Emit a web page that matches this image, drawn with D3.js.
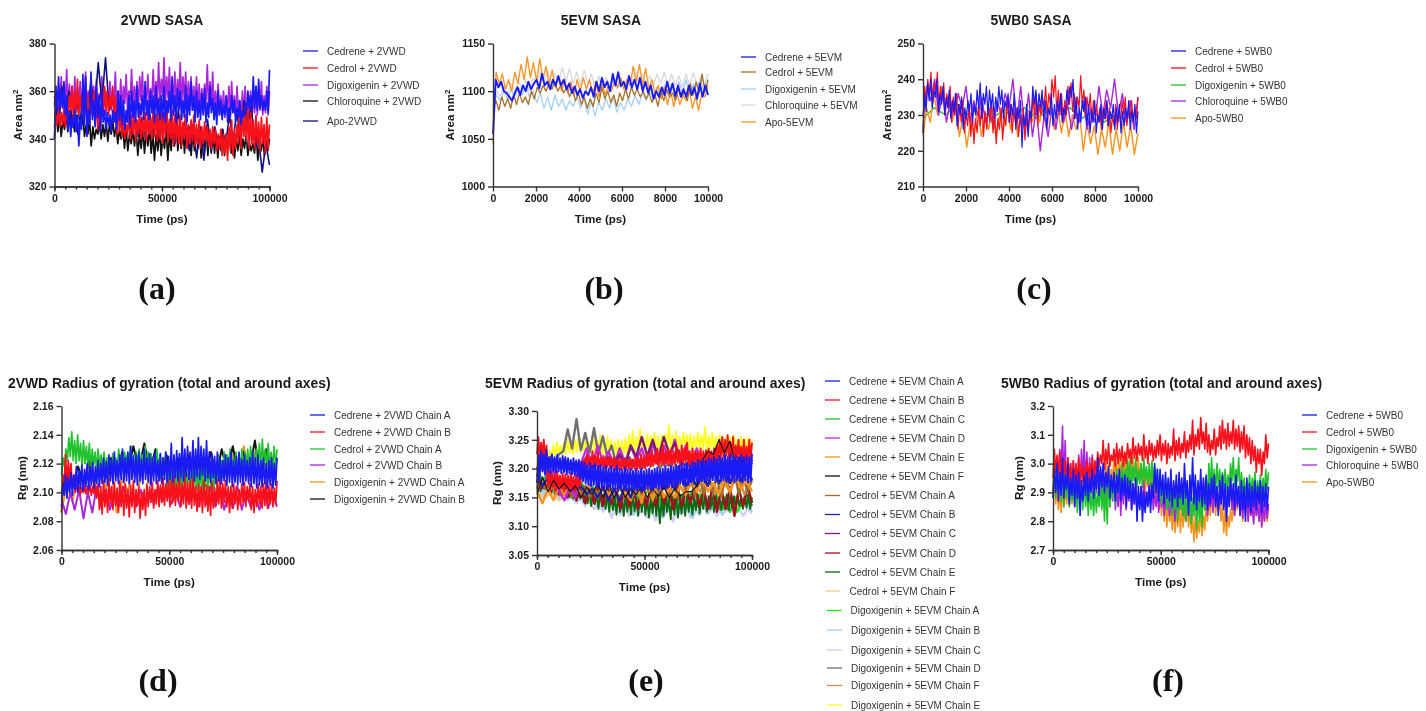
<!DOCTYPE html>
<html>
<head>
<meta charset="utf-8">
<script src="https://cdn.jsdelivr.net/npm/d3@7"></script>
<style>
    html, body { margin: 0; padding: 0; background: white; }
    svg { display: block; filter: blur(0.35px); }
    text { font-family: 'Liberation Sans', Arial, sans-serif; fill: #1a1a1a; }
    .axis text { font-family: 'Liberation Sans', Arial, sans-serif; font-weight: 700; font-size: 10.5px; }
    .axis path, .axis line { stroke: #333; stroke-width: 1.4px; }
    .title { font-weight: 700; font-size: 13.9px; }
    .axis-label { font-weight: 700; font-size: 11.6px; }
    .legend-label { font-size: 10px; fill: #333; }
    .letter { font-family: 'Liberation Serif', serif; font-weight: 700; font-size: 32px; fill: #111; }
</style>
</head>
<body>
<div id="chart"></div>
<script>

// values, evenly spaced over each run

// (a) 2VWD SASA
const aCedrene = [340,362,352,366,351,360,353,364,350,358,344,351,341,349,345,352,343,350,337,348,344,367,346,366,341,352,346,368,348,356,345,362,349,358,343,360,347,352,344,351,346,350,343,352,347,351,344,360,348,358,346,356,344,352,347,358,345,360,349,356,347,362,349,355,350,358,348,364,350,356,348,360,351,358,347,362,350,357,348,358,349,362,347,356,351,360,348,366,350,358,347,361,352,360,348,356,349,362,347,358,350,364,352,358,347,360,349,356,348,359,350,361,347,355,349,362,351,357,348,355,346,360,350,356,348,354,350,358,347,353,349,358,351,356,347,353,349,356,346,352,349,355,352,360,353,358,352,366,353,362,352,365,353,358,352,356,352,360,351,369];
const aCedrol = [340,350,346,354,345,351,346,353,345,352,350,358,352,362,349,360,351,365,350,358,352,362,349,360,351,358,347,356,350,360,347,354,344,358,345,352,350,362,352,360,350,358,353,362,349,358,342,356,343,350,341,348,340,346,342,350,340,350,342,351,339,348,342,352,340,349,341,351,339,352,342,349,340,354,341,350,339,352,340,351,338,350,341,356,339,348,340,352,337,350,339,348,338,350,337,347,340,350,336,346,338,348,339,350,337,346,338,348,336,345,338,347,339,345,337,344,336,345,338,344,335,342,336,344,333,342,334,342,331,345,335,348,333,344,336,346,338,352,336,353,341,350,339,353,336,351,338,348,336,350,338,347,335,349,338,346,334,349,336,346];
const aDigoxigenin = [354,362,352,360,356,366,353,361,355,369,352,363,354,362,351,366,354,361,353,364,350,362,354,368,353,360,356,366,352,362,354,365,351,359,356,366,353,361,350,360,354,364,352,361,355,368,352,360,354,365,351,362,355,367,352,360,356,369,353,362,355,364,352,366,356,368,353,362,355,367,354,361,357,369,354,364,356,372,355,365,358,374,355,366,357,370,354,364,356,368,353,365,356,372,354,366,356,368,353,364,355,366,352,362,354,366,352,363,353,361,351,363,355,371,353,364,354,368,351,360,352,363,350,358,351,360,349,358,352,362,350,364,351,358,349,362,351,356,349,360,350,362,348,356,350,360,349,358,351,362,350,360,352,364,350,358,351,362,350,360];
const aChloroquine = [345,352,343,350,341,348,344,350,343,352,345,350,343,350,342,347,345,350,341,346,342,348,337,345,340,344,342,347,340,346,341,347,339,346,342,347,341,345,338,344,340,345,336,344,335,342,338,344,337,344,333,342,336,344,334,343,337,345,334,342,331,342,335,344,333,341,336,345,331,342,335,346,337,348,335,345,336,346,334,344,336,345,333,343,335,344,336,345,332,342,335,345,333,343,336,344,334,342,332,341,335,344,333,342,336,344,334,340,332,340,335,342,333,340,336,342,333,338,335,338,334,342,331,338,335,340,333,339,335,340];
const aApo = [358,348,362,350,360,345,358,346,362,348,364,352,372,355,374,352,356,346,352,344,350,342,350,341,349,340,352,342,350,340,351,341,350,338,352,338,349,335,346,332,345,331,348,334,345,336,344,338,350,338,352,340,356,345,354,336,340,326,338,329];

// (b) 5EVM SASA
const bCedrene = [1055,1112,1104,1110,1100,1098,1094,1090,1098,1104,1096,1106,1100,1110,1102,1108,1112,1103,1118,1106,1110,1102,1112,1106,1116,1106,1112,1102,1108,1098,1105,1096,1102,1093,1100,1096,1104,1094,1110,1100,1114,1104,1110,1100,1118,1106,1120,1105,1110,1102,1116,1104,1112,1102,1114,1100,1110,1098,1106,1092,1100,1094,1104,1096,1110,1098,1108,1095,1106,1094,1102,1094,1106,1096,1104,1092,1108,1094,1106,1096];
const bCedrol = [1082,1090,1080,1094,1084,1092,1082,1096,1086,1098,1088,1094,1086,1100,1092,1104,1098,1106,1100,1108,1102,1110,1100,1106,1098,1104,1094,1102,1090,1098,1086,1094,1082,1092,1084,1098,1088,1104,1092,1100,1088,1096,1084,1098,1090,1102,1092,1104,1096,1102,1094,1100,1092,1098,1088,1096,1084,1100,1090,1102,1094,1098,1090,1104,1094,1100,1090,1108,1096,1110,1098,1118,1100,1112];
const bDigoxigenin = [1085,1096,1090,1100,1092,1102,1094,1104,1096,1106,1094,1100,1088,1098,1082,1094,1080,1096,1084,1092,1080,1090,1084,1095,1082,1092,1076,1090,1074,1088,1080,1092,1082,1094,1078,1088,1080,1092,1084,1096,1086,1098,1090,1100,1092,1104,1094,1106,1096,1108,1094,1110,1098,1112,1096,1108,1094,1112,1098,1110];
const bChloroquine = [1090,1100,1095,1104,1098,1108,1100,1110,1102,1112,1100,1114,1106,1120,1108,1122,1106,1118,1108,1125,1110,1124,1108,1120,1106,1122,1108,1118,1104,1116,1102,1114,1100,1112,1102,1114,1104,1116,1106,1124,1108,1118,1104,1116,1106,1118,1108,1120,1104,1118,1106,1116,1104,1118,1106,1120,1104,1116,1106,1118];
const bApo = [1045,1120,1108,1118,1102,1112,1100,1120,1108,1128,1112,1136,1114,1130,1110,1134,1112,1126,1108,1122,1104,1114,1100,1112,1098,1110,1096,1112,1100,1114,1102,1112,1098,1110,1094,1108,1096,1106,1100,1110,1104,1114,1102,1112,1106,1126,1110,1128,1106,1124,1102,1112,1098,1106,1092,1104,1086,1100,1084,1098,1086,1096,1090,1102,1082,1094,1080,1098,1094,1106];

// (c) 5WB0 SASA
const cCedrene = [225,236,231,239,234,240,232,237,235,240,231,236,233,238,230,235,232,237,229,234,231,236,227,233,230,235,226,232,229,234,231,236,228,233,230,237,232,239,229,236,233,238,230,237,232,236,229,235,231,238,233,237,229,234,232,236,228,233,230,236,226,232,229,234,221,230,227,233,224,231,229,238,233,237,230,236,232,237,229,234,226,232,230,236,227,233,229,234,231,236,228,232,230,237,233,238,235,240,229,235,226,232,228,234,231,235,227,233,225,231,228,234,225,230,228,233,226,232,229,234,227,231,229,233,226,232,228,233,225,231,227,232,229,234,226,231,228,233,225,231];
const cCedrol = [225,238,233,240,235,242,233,239,236,242,232,238,234,239,230,236,232,238,228,235,230,236,226,233,228,234,225,231,227,233,224,230,222,229,225,232,227,234,224,231,226,233,228,234,225,231,222,229,226,232,223,230,227,234,228,233,225,231,228,232,224,230,226,232,223,229,225,231,228,235,230,236,227,233,230,235,232,238,230,236,233,240,235,241,231,237,230,236,228,234,230,238,233,239,231,236,229,235,232,241,233,237,230,235,231,236,228,234,230,233,228,232,226,231,229,234,227,232,225,230,227,233,226,231,228,234,230,235,227,231,229,234,228,232,229,235];
const cDigoxigenin = [229,232,230,233,230,232,229,231,230,232,229,231,230,232,229,231,228,230,229,231];
const cChloroquine = [230,238,234,240,230,236,228,234,230,236,232,238,228,234,230,235,228,232,226,234,230,236,232,240,228,238,226,236,224,232,220,230,224,232,226,234,228,233,226,232,228,234,226,232,228,238,230,237,232,240,230,236,228,234,226,235];
const cApo = [224,232,228,236,230,238,232,235,228,233,224,230,221,228,225,232,224,230,226,232,224,230,225,234,226,232,224,230,226,231,228,233,228,232,226,234,226,232,225,231,224,230,226,230,220,228,222,227,219,226,221,228,219,226,220,228,221,227,219,225];

// (d) 2VWD radius of gyration
const dCedreneA = [2.090,2.105,2.098,2.112,2.096,2.110,2.100,2.114,2.098,2.112,2.102,2.118,2.100,2.115,2.103,2.119,2.101,2.116,2.104,2.120,2.102,2.118,2.105,2.121,2.103,2.118,2.106,2.122,2.104,2.120,2.106,2.124,2.107,2.121,2.105,2.126,2.108,2.123,2.106,2.128,2.108,2.122,2.106,2.126,2.109,2.130,2.107,2.124,2.108,2.128,2.106,2.132,2.109,2.125,2.107,2.126,2.105,2.128,2.108,2.123,2.106,2.130,2.109,2.124,2.107,2.127,2.105,2.124,2.108,2.128,2.106,2.122,2.108,2.127,2.106,2.124,2.109,2.128,2.107,2.125,2.109,2.134,2.107,2.126,2.110,2.129,2.108,2.127,2.110,2.138,2.108,2.130,2.111,2.132,2.109,2.128,2.110,2.136,2.108,2.130,2.111,2.138,2.109,2.132,2.112,2.130,2.108,2.136,2.110,2.128,2.107,2.127,2.110,2.125,2.106,2.128,2.108,2.124,2.106,2.122,2.108,2.126,2.105,2.124,2.107,2.128,2.104,2.122,2.107,2.125,2.105,2.128,2.107,2.123,2.105,2.126,2.108,2.122,2.106,2.124,2.104,2.128,2.106,2.124,2.103,2.126,2.105,2.122,2.104,2.124,2.106,2.120,2.103,2.122,2.105,2.124,2.103,2.120,2.105,2.124];
const dCedreneB = [2.086,2.112,2.108,2.126,2.106,2.122,2.108,2.120,2.102,2.112,2.100,2.106,2.100,2.104,2.099,2.103,2.100,2.104,2.099,2.104,2.100,2.105,2.098,2.104,2.099,2.105,2.096,2.106,2.088,2.104,2.085,2.108,2.090,2.102,2.086,2.109,2.092,2.104,2.088,2.107,2.091,2.103,2.086,2.108,2.090,2.104,2.084,2.106,2.089,2.102,2.083,2.105,2.090,2.108,2.086,2.102,2.091,2.104,2.082,2.100,2.088,2.102,2.084,2.106,2.090,2.104,2.093,2.107,2.089,2.102,2.092,2.108,2.090,2.105,2.093,2.110,2.091,2.106,2.094,2.109,2.090,2.108,2.093,2.112,2.091,2.106,2.094,2.110,2.090,2.106,2.092,2.112,2.089,2.107,2.092,2.109,2.089,2.110,2.091,2.104,2.087,2.106,2.090,2.104,2.086,2.108,2.090,2.105,2.087,2.104,2.084,2.108,2.089,2.103,2.091,2.108,2.092,2.110,2.089,2.106,2.093,2.108,2.090,2.104,2.086,2.104,2.089,2.106,2.092,2.104,2.088,2.102,2.091,2.106,2.093,2.107,2.090,2.104,2.094,2.106,2.088,2.104,2.086,2.102,2.090,2.106,2.092,2.104,2.089,2.106,2.091,2.108,2.089,2.104,2.092,2.106,2.090,2.103,2.092,2.108];
const dCedrolA = [2.112,2.124,2.118,2.130,2.122,2.138,2.125,2.142,2.122,2.136,2.120,2.140,2.122,2.134,2.118,2.136,2.120,2.132,2.118,2.134,2.116,2.130,2.119,2.128,2.115,2.130,2.117,2.126,2.114,2.128,2.116,2.124,2.114,2.122,2.116,2.127,2.118,2.124,2.116,2.130,2.119,2.126,2.117,2.128,2.120,2.127,2.116,2.132,2.118,2.126,2.116,2.128,2.118,2.130,2.116,2.126,2.118,2.132,2.116,2.128,2.114,2.127,2.117,2.124,2.114,2.130,2.112,2.126,2.110,2.124,2.112,2.128,2.100,2.118,2.104,2.116,2.098,2.120,2.102,2.116,2.098,2.118,2.100,2.122,2.098,2.116,2.104,2.120,2.100,2.118,2.098,2.122,2.102,2.116,2.098,2.120,2.100,2.124,2.104,2.120,2.100,2.122,2.104,2.124,2.102,2.120,2.104,2.126,2.108,2.122,2.110,2.128,2.112,2.126,2.114,2.130,2.112,2.124,2.116,2.128,2.114,2.126,2.116,2.130,2.114,2.128,2.118,2.130,2.116,2.132,2.118,2.128,2.116,2.130,2.118,2.134,2.116,2.137,2.118,2.130,2.116,2.134,2.118,2.128,2.116,2.132,2.118,2.130];
const dCedrolB = [2.095,2.085,2.100,2.088,2.102,2.082,2.100,2.086,2.104,2.090,2.102,2.088,2.098,2.090,2.104,2.092,2.100,2.090,2.102,2.094,2.100,2.092,2.104,2.094,2.102,2.092,2.100,2.090,2.104,2.092,2.102,2.090,2.100,2.092,2.104,2.090,2.102,2.088,2.100,2.089,2.104,2.088,2.100,2.090,2.098,2.088,2.102,2.089,2.100,2.090];
const dDigoxigeninA = [2.086,2.108,2.094,2.112,2.100,2.118,2.104,2.120,2.102,2.116,2.086,2.110,2.100,2.122,2.104,2.120,2.106,2.124,2.108,2.126,2.104,2.122,2.108,2.128,2.110,2.124,2.106,2.128,2.108,2.122,2.110,2.126,2.112,2.132,2.108,2.128,2.110,2.126,2.108,2.124];
const dDigoxigeninB = [2.100,2.115,2.104,2.118,2.106,2.122,2.108,2.120,2.110,2.124,2.112,2.128,2.114,2.132,2.116,2.134,2.114,2.130,2.110,2.126,2.108,2.124,2.110,2.126,2.108,2.122,2.110,2.128,2.112,2.130,2.114,2.132,2.112,2.128,2.114,2.136,2.110,2.130,2.112,2.124];

// (e) 5EVM radius of gyration
const eCedreneA = [3.175,3.225,3.185,3.23,3.195,3.225,3.19,3.232,3.195,3.22,3.192,3.225,3.196,3.22,3.193,3.224,3.195,3.218,3.192,3.222,3.194,3.22,3.19,3.218,3.192,3.215,3.19,3.218,3.188,3.214,3.186,3.215,3.182,3.212,3.178,3.21,3.174,3.206,3.172,3.21,3.17,3.205,3.172,3.208,3.168,3.205,3.17,3.206,3.166,3.202,3.168,3.205,3.165,3.2,3.167,3.204,3.164,3.2,3.166,3.205,3.162,3.2,3.164,3.198,3.166,3.202,3.163,3.198,3.165,3.2,3.162,3.196,3.164,3.2,3.162,3.196,3.165,3.2,3.162,3.196,3.164,3.198,3.165,3.2,3.163,3.197,3.165,3.2,3.167,3.202,3.164,3.198,3.166,3.2,3.168,3.205,3.166,3.2,3.17,3.205,3.168,3.203,3.172,3.206,3.17,3.205,3.175,3.21,3.172,3.208,3.175,3.21,3.172,3.206,3.176,3.212,3.174,3.21,3.178,3.215,3.175,3.212,3.178,3.216,3.176,3.214,3.18,3.218,3.178,3.216,3.18,3.22,3.177,3.216,3.18,3.222,3.178,3.218,3.18,3.224,3.177,3.22,3.18,3.225,3.178,3.22,3.176,3.222,3.18,3.22,3.178,3.224,3.176,3.22,3.18,3.222,3.176,3.22,3.178,3.226];
const eCedreneB = [3.225,3.255,3.215,3.245,3.22,3.25,3.215,3.24,3.17,3.195,3.165,3.192,3.168,3.19,3.162,3.195,3.166,3.188,3.165,3.192,3.16,3.19,3.165,3.188,3.162,3.192,3.165,3.186,3.16,3.19,3.165,3.185,3.17,3.2,3.195,3.215,3.2,3.225,3.205,3.22,3.205,3.23,3.208,3.222,3.205,3.228,3.2,3.218,3.205,3.222,3.2,3.22,3.203,3.22,3.2,3.218,3.202,3.22,3.198,3.215,3.2,3.218,3.198,3.216,3.2,3.218,3.198,3.215,3.2,3.218,3.198,3.216,3.2,3.22,3.198,3.218,3.2,3.225,3.202,3.22,3.2,3.228,3.205,3.225,3.203,3.232,3.205,3.225,3.208,3.235,3.205,3.228,3.208,3.24,3.205,3.23,3.208,3.235,3.206,3.232,3.205,3.23,3.208,3.238,3.21,3.232,3.205,3.24,3.208,3.235,3.21,3.245,3.205,3.23,3.205,3.235,3.208,3.23,3.205,3.228,3.208,3.235,3.205,3.23,3.208,3.232,3.21,3.235,3.205,3.23,3.208,3.235,3.212,3.24,3.215,3.25,3.22,3.255,3.218,3.25,3.222,3.258,3.218,3.245,3.22,3.255,3.215,3.24,3.218,3.25,3.215,3.238,3.212,3.25,3.21,3.238,3.212,3.25,3.215,3.245];
const eCedreneC = [3.19,3.17,3.20,3.165,3.185,3.165,3.18,3.155,3.175,3.16,3.17,3.15,3.17,3.145,3.165,3.14,3.165,3.14,3.16,3.135,3.165,3.14,3.16,3.135,3.16,3.135,3.155,3.13,3.16,3.135,3.155,3.135,3.15,3.13,3.15,3.125,3.15,3.135,3.155,3.135];
const eCedreneD = [3.19,3.205,3.18,3.2,3.16,3.145,3.17,3.15,3.21,3.235,3.205,3.24,3.21,3.23,3.205,3.235,3.21,3.24,3.215,3.235,3.205,3.245,3.21,3.24,3.215,3.25,3.21,3.24,3.205,3.235,3.21,3.225,3.205,3.22,3.2,3.215,3.205,3.22,3.2,3.215];
const eCedreneE = [3.16,3.14,3.165,3.145,3.17,3.155,3.175,3.16,3.17,3.155,3.165,3.15,3.17,3.155,3.165,3.15,3.16,3.145,3.175,3.14,3.18,3.145,3.185,3.15,3.165,3.15,3.17,3.155,3.18,3.16,3.185,3.16,3.175,3.155,3.18,3.16,3.19,3.165,3.18,3.16];
const eCedreneF = [3.155,3.185,3.16,3.18,3.165,3.175,3.16,3.17,3.15,3.168,3.155,3.175,3.15,3.172,3.148,3.17,3.15,3.165,3.155,3.17,3.15,3.165,3.152,3.168,3.15,3.165,3.152,3.16,3.16,3.17,3.215,3.23,3.225,3.25,3.228,3.248,3.205,3.22,3.195,3.21];
const eCedrolA = [3.16,3.175,3.165,3.18,3.16,3.175,3.155,3.17,3.15,3.165,3.155,3.17,3.15,3.165,3.155,3.165,3.15,3.165,3.155,3.17,3.15,3.165,3.155,3.17,3.155,3.175,3.15,3.17,3.155,3.18,3.15,3.175,3.15,3.19,3.155,3.185,3.152,3.19,3.155,3.195,3.16,3.185,3.15,3.19,3.155,3.195,3.155,3.185,3.16,3.18];
const eCedrolB = [3.19,3.17,3.185,3.17,3.18,3.165,3.175,3.16,3.17,3.155,3.165,3.15,3.168,3.145,3.165,3.145,3.17,3.15,3.175,3.16,3.18,3.165,3.185,3.165,3.18,3.165,3.19,3.17,3.185,3.17,3.19,3.17,3.2,3.175,3.195,3.175,3.2,3.18,3.195,3.18];
const eCedrolC = [3.2,3.21,3.2,3.215,3.205,3.215,3.2,3.21,3.205,3.22,3.2,3.215,3.205,3.22,3.21,3.225,3.205,3.24,3.22,3.255,3.222,3.25,3.218,3.255,3.225,3.245,3.21,3.23,3.205,3.225,3.2,3.22,3.205,3.22,3.2,3.215,3.205,3.22,3.2,3.215];
const eCedrolD = [3.18,3.165,3.175,3.16,3.17,3.155,3.165,3.15,3.17,3.145,3.168,3.14,3.172,3.14,3.175,3.135,3.17,3.14,3.165,3.13,3.17,3.135,3.165,3.13,3.168,3.135,3.172,3.135,3.165,3.14,3.17,3.13,3.168,3.135,3.165,3.14,3.17,3.135,3.165,3.13,3.17,3.125,3.165,3.13,3.168,3.118,3.165,3.135,3.17,3.14];
const eCedrolE = [3.165,3.19,3.16,3.185,3.165,3.18,3.16,3.178,3.158,3.175,3.155,3.172,3.158,3.17,3.155,3.168,3.155,3.165,3.15,3.165,3.148,3.162,3.145,3.16,3.148,3.16,3.142,3.158,3.14,3.16,3.135,3.158,3.138,3.155,3.13,3.16,3.135,3.155,3.13,3.158,3.125,3.155,3.128,3.15,3.12,3.155,3.125,3.152,3.118,3.155,3.125,3.15,3.12,3.155,3.126,3.15,3.118,3.152,3.125,3.155,3.12,3.148,3.115,3.15,3.122,3.155,3.118,3.15,3.105,3.148,3.118,3.155,3.125,3.15,3.112,3.152,3.12,3.155,3.115,3.148,3.122,3.152,3.118,3.155,3.125,3.15,3.12,3.152,3.128,3.155,3.122,3.15,3.13,3.155,3.125,3.152,3.13,3.15,3.125,3.155,3.132,3.15,3.128,3.152,3.13,3.155,3.128,3.15,3.132,3.152,3.13,3.155,3.135,3.15,3.13,3.152,3.132,3.155,3.13,3.15];
const eCedrolF = [3.16,3.15,3.158,3.145,3.16,3.15,3.155,3.142,3.15,3.14,3.148,3.135,3.15,3.135,3.145,3.13,3.15,3.135,3.145,3.13,3.148,3.135,3.15,3.13,3.148,3.135,3.145,3.13,3.15,3.135];
const eDigoxigeninA = [3.2,3.17,3.195,3.165,3.18,3.16,3.175,3.15,3.168,3.145,3.165,3.14,3.162,3.135,3.16,3.13,3.16,3.135,3.155,3.13,3.16,3.13,3.155,3.135,3.16,3.13,3.155,3.125,3.15,3.135];
const eDigoxigeninB = [3.18,3.155,3.175,3.15,3.17,3.145,3.165,3.14,3.16,3.13,3.155,3.125,3.15,3.12,3.152,3.125,3.15,3.115,3.15,3.12,3.148,3.115,3.15,3.122,3.15,3.12,3.148,3.125,3.15,3.125];
const eDigoxigeninC = [3.17,3.15,3.165,3.155,3.16,3.15,3.155,3.145,3.15,3.14,3.148,3.135,3.145,3.13,3.14,3.125,3.14,3.115,3.135,3.12,3.135,3.118,3.13,3.12,3.128,3.115,3.13,3.11,3.125,3.118,3.13,3.108,3.13,3.12,3.135,3.115,3.13,3.12,3.135,3.122,3.13,3.118,3.132,3.125,3.135,3.12,3.13,3.118,3.13,3.122];
const eDigoxigeninD = [3.2,3.215,3.205,3.22,3.21,3.225,3.23,3.268,3.235,3.286,3.232,3.262,3.228,3.27,3.225,3.256,3.222,3.24,3.21,3.225,3.205,3.22,3.205,3.215,3.2,3.215,3.205,3.22,3.2,3.215,3.205,3.215,3.2,3.21,3.205,3.215,3.2,3.21,3.205,3.215,3.2,3.21,3.205,3.215,3.2,3.21,3.205,3.215,3.2,3.21];
const eDigoxigeninF = [3.165,3.18,3.165,3.175,3.16,3.175,3.155,3.17,3.155,3.165,3.15,3.165,3.155,3.17,3.15,3.165,3.155,3.17,3.155,3.175,3.155,3.18,3.16,3.185,3.155,3.18,3.16,3.19,3.155,3.185];
const eDigoxigeninE = [3.205,3.225,3.21,3.23,3.215,3.235,3.21,3.232,3.215,3.24,3.22,3.245,3.225,3.24,3.225,3.245,3.225,3.25,3.228,3.245,3.225,3.248,3.23,3.255,3.228,3.245,3.23,3.25,3.225,3.245,3.23,3.262,3.228,3.25,3.23,3.258,3.225,3.25,3.225,3.255,3.228,3.25,3.222,3.245,3.225,3.25,3.22,3.248,3.225,3.252,3.22,3.258,3.23,3.265,3.225,3.255,3.23,3.268,3.232,3.255,3.228,3.26,3.235,3.256,3.23,3.262,3.232,3.255,3.23,3.258,3.235,3.26,3.235,3.275,3.232,3.258,3.235,3.265,3.232,3.255,3.235,3.262,3.238,3.258,3.235,3.26,3.23,3.255,3.232,3.262,3.236,3.258,3.235,3.272,3.232,3.256,3.235,3.262,3.23,3.255,3.232,3.258,3.23,3.252,3.232,3.256,3.23,3.254,3.232,3.258,3.23,3.25,3.228,3.256,3.23,3.252,3.228,3.254,3.23,3.25];

// (f) 5WB0 radius of gyration
const fCedrene = [2.88,2.98,2.90,3.00,2.87,2.97,2.89,3.02,2.88,2.96,2.91,3.00,2.86,2.95,2.89,2.98,2.85,2.96,2.88,2.97,2.82,2.94,2.87,2.96,2.89,2.97,2.87,2.95,2.90,2.98,2.88,2.96,2.91,3.02,2.89,2.99,2.92,3.00,2.90,2.97,2.92,2.99,2.88,2.96,2.90,2.97,2.87,2.96,2.90,2.98,2.87,2.95,2.89,2.96,2.85,2.95,2.88,2.94,2.84,2.93,2.86,2.95,2.80,2.92,2.84,2.92,2.80,2.90,2.83,2.90,2.85,2.92,2.83,2.93,2.88,3.00,2.90,2.98,2.87,2.98,2.89,2.96,2.86,2.97,2.88,2.95,2.87,2.98,2.85,2.94,2.88,2.96,2.85,2.97,2.88,2.95,2.86,3.00,2.88,2.94,2.82,2.96,2.87,3.02,2.86,2.96,2.84,2.94,2.87,2.98,2.85,2.95,2.86,2.96,2.84,2.93,2.86,2.95,2.88,2.96,2.85,2.92,2.82,2.94,2.86,2.96,2.84,2.93,2.80,2.92,2.85,2.95,2.87,2.93,2.84,2.96,2.86,2.92,2.82,2.94,2.84,2.92,2.80,2.95,2.85,2.93,2.83,2.92,2.85,2.94,2.84,2.92,2.86,2.94,2.83,2.92,2.85,2.93,2.84,2.92];
const fCedrol = [2.95,3.05,2.97,3.03,2.96,3.04,2.94,3.02,2.96,3.01,2.93,3.02,2.95,3.00,2.92,3.01,2.94,3.00,2.93,3.02,2.92,3.00,2.94,2.99,2.92,3.01,2.94,3.00,2.96,3.02,2.95,3.01,2.97,3.04,2.99,3.03,3.00,3.08,2.98,3.05,3.00,3.07,2.99,3.03,3.01,3.05,2.99,3.07,3.00,3.05,3.01,3.06,2.99,3.04,3.00,3.07,3.02,3.05,3.00,3.09,3.02,3.06,3.01,3.07,3.03,3.06,3.01,3.10,3.02,3.06,3.00,3.08,3.03,3.07,3.01,3.06,3.02,3.08,3.03,3.10,3.01,3.07,3.03,3.08,3.00,3.07,3.02,3.06,3.03,3.12,3.01,3.08,3.03,3.09,3.02,3.07,3.04,3.11,3.02,3.08,3.04,3.10,3.05,3.15,3.03,3.10,3.06,3.12,3.05,3.16,3.07,3.11,3.05,3.14,3.04,3.10,3.03,3.08,3.05,3.12,3.03,3.09,3.06,3.13,3.05,3.15,3.07,3.12,3.05,3.14,3.06,3.11,3.07,3.15,3.05,3.12,3.06,3.13,3.04,3.11,3.05,3.13,3.02,3.10,3.03,3.09,3.00,3.08,3.01,3.06,2.97,3.05,3.00,3.05,2.96,3.04,3.00,3.10,3.02,3.07];
const fDigoxigenin = [2.90,3.00,2.88,3.02,2.90,2.98,2.87,3.00,2.85,2.96,2.88,2.96,2.85,2.94,2.87,2.94,2.85,2.93,2.83,2.92,2.86,2.94,2.84,2.95,2.85,2.92,2.82,2.92,2.84,2.90,2.82,2.92,2.83,2.90,2.85,2.94,2.84,2.92,2.80,2.94,2.79,2.96,2.85,2.94,2.88,2.96,2.86,2.98,2.90,2.97,2.89,3.00,2.92,2.98,2.90,3.01,2.93,3.02,2.92,2.99,2.94,3.02,2.92,2.98,2.93,3.00,2.92,3.02,2.94,2.99,2.93,3.00,2.92,3.01,2.93,2.99,2.90,2.98,2.88,2.96,2.86,2.94,2.87,2.95,2.84,2.92,2.85,2.93,2.82,2.90,2.84,2.92,2.80,2.92,2.84,2.90,2.82,2.92,2.80,2.88,2.83,2.90,2.79,2.88,2.82,2.92,2.77,2.90,2.80,2.88,2.78,2.92,2.84,2.95,2.88,3.00,2.90,3.02,2.92,2.98,2.90,3.00,2.92,2.98,2.90,2.97,2.92,2.98,2.90,2.96,2.92,3.00,2.94,3.02,2.92,2.98,2.94,3.02,2.90,2.97,2.90,2.95,2.88,2.94,2.90,2.96,2.88,2.95,2.90,2.97,2.88,2.94,2.90,2.96,2.88,2.95,2.90,2.98,2.91,2.97];
const fChloroquine = [2.90,2.99,2.92,3.02,2.94,3.05,2.96,3.13,2.92,3.08,2.90,3.02,2.88,3.00,2.90,3.01,2.88,2.99,2.92,3.03,2.90,3.05,2.94,3.08,2.92,3.04,2.90,3.02,2.92,3.03,2.88,3.00,2.90,3.02,2.87,2.98,2.89,2.97,2.85,2.96,2.88,2.95,2.85,2.94,2.87,2.96,2.84,2.92,2.85,2.95,2.82,2.93,2.86,2.96,2.84,2.92,2.87,2.95,2.84,2.93,2.86,2.92,2.83,2.90,2.85,2.92,2.86,2.94,2.84,2.90,2.88,2.93,2.86,2.92,2.84,2.90,2.85,2.91,2.83,2.90,2.85,2.90,2.82,2.88,2.84,2.89,2.82,2.88,2.83,2.87,2.80,2.90,2.82,2.88,2.84,2.92,2.82,2.90,2.80,2.88,2.83,2.90,2.81,2.86,2.84,2.92,2.82,2.88,2.84,2.90,2.86,2.94,2.84,2.90,2.82,2.88,2.85,2.92,2.83,2.90,2.86,2.92,2.84,2.90,2.86,2.94,2.85,2.90,2.83,2.92,2.86,2.94,2.84,2.90,2.82,2.90,2.85,2.92,2.83,2.88,2.81,2.90,2.84,2.88,2.80,2.88,2.82,2.86,2.79,2.88,2.82,2.86,2.80,2.88,2.78,2.86,2.80,2.87,2.81,2.86];
const fApo = [2.88,2.95,2.86,2.92,2.84,2.90,2.83,2.90,2.85,2.92,2.86,2.90,2.85,2.92,2.86,2.92,2.88,2.94,2.86,2.92,2.88,2.94,2.87,2.93,2.88,2.95,2.90,2.96,2.90,2.95,2.92,2.97,2.90,2.96,2.92,2.98,2.93,2.98,2.92,3.00,2.94,3.00,2.92,2.98,2.94,3.02,2.95,3.00,2.94,3.02,2.96,3.01,2.94,3.00,2.96,3.02,2.94,3.00,2.95,3.02,2.94,3.01,2.96,3.02,2.94,3.00,2.92,2.98,2.90,2.96,2.92,2.98,2.90,2.96,2.86,2.94,2.88,2.94,2.84,2.92,2.82,2.90,2.80,2.88,2.78,2.86,2.80,2.84,2.77,2.85,2.76,2.84,2.78,2.86,2.76,2.85,2.78,2.84,2.80,2.86,2.78,2.84,2.76,2.82,2.73,2.82,2.74,2.80,2.76,2.84,2.75,2.82,2.77,2.86,2.80,2.88,2.82,2.88,2.84,2.90,2.82,2.88,2.84,2.88,2.80,2.86,2.76,2.84,2.75,2.82,2.78,2.84,2.80,2.86,2.82,2.88,2.84,2.90,2.82,2.88,2.80,2.88,2.82,2.87,2.80,2.86,2.82,2.88,2.80,2.86,2.82,2.88,2.80,2.86,2.78,2.85,2.80,2.86,2.80,2.85];

// axis tick values
const ticksLong = [0, 50000, 100000];
const ticksLongMinor = d3.range(0, 100001, 5000);
const ticksShort = [0, 2000, 4000, 6000, 8000, 10000];
const ticksA = [320, 340, 360, 380];
const ticksB = [1000, 1050, 1100, 1150];
const ticksC = [210, 220, 230, 240, 250];
const ticksD = [2.06, 2.08, 2.10, 2.12, 2.14, 2.16];
const ticksE = [3.05, 3.10, 3.15, 3.20, 3.25, 3.30];
const ticksF = [2.7, 2.8, 2.9, 3.0, 3.1, 3.2];

const BLUE = '#1a1af5', RED = '#f8101a', GREEN = '#22c22e', PURPLE = '#a826dc', ORANGE = '#f7931e', BLACK = '#111';

const svg = d3.select('#chart').append('svg').attr('width', 1426).attr('height', 711);

class LinePanel {

    constructor(opts) {
        this.opts = opts;
        this.initVis();
    }

    initVis() {
        let vis = this;
        let o = vis.opts;

        vis.g = svg.append('g');

        vis.xScale = d3.scaleLinear().domain([0, o.xMax]).range([o.x0, o.x1]);
        vis.yScale = d3.scaleLinear().domain(d3.extent(o.yTicks)).range([o.y1, o.y0]);

        vis.updateVis();
    }

    updateVis() {
        let vis = this;
        let o = vis.opts;

        // series, back to front
        o.series.forEach(function (s) {
            let line = d3.line()
                .x((d, i) => vis.xScale(i * o.xMax / (s.values.length - 1)))
                .y(d => vis.yScale(d));
            // the long runs are dense enough for a thin line
            let width = s.width || (s.values.length > 110 ? o.denseWidth : o.lineWidth);
            vis.g.append('path')
                .datum(s.values)
                .attr('fill', 'none')
                .attr('stroke', s.color)
                .attr('stroke-width', width)
                .attr('stroke-linejoin', 'round')
                .attr('d', line);
        });

        // axes
        if (o.xMinor) {
            vis.g.append('g')
                .attr('class', 'axis')
                .attr('transform', `translate(0, ${o.y1})`)
                .call(d3.axisBottom(vis.xScale).tickValues(o.xMinor).tickSize(3).tickFormat(''));
        }
        vis.g.append('g')
            .attr('class', 'axis')
            .attr('transform', `translate(0, ${o.y1})`)
            .call(d3.axisBottom(vis.xScale).tickValues(o.xTicks).tickSize(5).tickSizeOuter(0).tickFormat(d3.format('d')));

        vis.g.append('g')
            .attr('class', 'axis')
            .attr('transform', `translate(${o.x0}, 0)`)
            .call(d3.axisLeft(vis.yScale).tickValues(o.yTicks).tickSize(5).tickSizeOuter(0).tickFormat(d3.format(o.yFormat)));

        // titles
        vis.g.append('text').attr('class', 'title')
            .attr('x', o.titleX).attr('y', o.titleY).attr('text-anchor', o.titleAnchor)
            .text(o.title);

        vis.g.append('text').attr('class', 'axis-label')
            .attr('x', (o.x0 + o.x1) / 2).attr('y', o.y1 + 36)
            .attr('text-anchor', 'middle')
            .text('Time (ps)');

        let yLabel = vis.g.append('text').attr('class', 'axis-label')
            .attr('transform', `translate(${o.yLabelX}, ${(o.y0 + o.y1) / 2}) rotate(-90)`)
            .attr('text-anchor', 'middle')
            .text(o.yLabel);
        if (o.yLabelSup) {
            yLabel.append('tspan').attr('dy', -4).style('font-size', '8px').text(o.yLabelSup);
        }

        // legend
        o.legend.forEach(function (s, i) {
            vis.g.append('line')
                .attr('x1', o.legendX + (s.dx || 0)).attr('x2', o.legendX + 15 + (s.dx || 0))
                .attr('y1', o.legendY[i]).attr('y2', o.legendY[i])
                .attr('stroke', s.color).attr('stroke-width', 1.3);
            vis.g.append('text').attr('class', 'legend-label')
                .attr('x', o.legendX + 24 + (s.dx || 0)).attr('y', o.legendY[i] + 3.5)
                .text(s.label);
        });

        // panel letter
        vis.g.append('text').attr('class', 'letter')
            .attr('x', o.letterX).attr('y', o.letterY).attr('text-anchor', 'middle')
            .text(o.letter);
    }
}

function entry(label, values, color, dx, width) {
    return {label: label, values: values, color: color, dx: dx, width: width};
}

// panel a
let aLegend = [
    entry('Cedrene + 2VWD', aCedrene, BLUE),
    entry('Cedrol + 2VWD', aCedrol, RED),
    entry('Digoxigenin + 2VWD', aDigoxigenin, PURPLE),
    entry('Chloroquine + 2VWD', aChloroquine, BLACK),
    entry('Apo-2VWD', aApo, '#10107e')
];
new LinePanel({
    title: '2VWD SASA', titleX: 162, titleY: 25, titleAnchor: 'middle',
    x0: 54.5, x1: 269.5, y0: 43.5, y1: 186.5, xMax: 100000, lineWidth: 1.6, denseWidth: 1.7,
    xTicks: ticksLong, xMinor: ticksLongMinor, yTicks: ticksA, yFormat: 'd',
    yLabel: 'Area nm', yLabelSup: '2', yLabelX: 22,
    series: [aLegend[2], aLegend[3], aLegend[4], aLegend[1], aLegend[0]],
    legend: aLegend, legendX: 303, legendY: [51, 68, 85, 101, 121],
    letter: '(a)', letterX: 157, letterY: 299
});

// panel b
let bLegend = [
    entry('Cedrene + 5EVM', bCedrene, BLUE, 0, 1.9),
    entry('Cedrol + 5EVM', bCedrol, '#a8702a'),
    entry('Digoxigenin + 5EVM', bDigoxigenin, '#a6d0f2'),
    entry('Chloroquine + 5EVM', bChloroquine, '#d8d8dc'),
    entry('Apo-5EVM', bApo, ORANGE)
];
new LinePanel({
    title: '5EVM SASA', titleX: 601, titleY: 25, titleAnchor: 'middle',
    x0: 493, x1: 708, y0: 43.5, y1: 186.5, xMax: 10000, lineWidth: 1.3, denseWidth: 1.3,
    xTicks: ticksShort, yTicks: ticksB, yFormat: 'd',
    yLabel: 'Area nm', yLabelSup: '2', yLabelX: 454,
    series: [bLegend[3], bLegend[2], bLegend[4], bLegend[1], bLegend[0]],
    legend: bLegend, legendX: 741, legendY: [57, 72, 89, 105, 122],
    letter: '(b)', letterX: 604, letterY: 299
});

// panel c
let cLegend = [
    entry('Cedrene + 5WB0', cCedrene, BLUE),
    entry('Cedrol + 5WB0', cCedrol, RED),
    entry('Digoxigenin + 5WB0', cDigoxigenin, GREEN),
    entry('Chloroquine + 5WB0', cChloroquine, PURPLE),
    entry('Apo-5WB0', cApo, ORANGE)
];
new LinePanel({
    title: '5WB0 SASA', titleX: 1031, titleY: 25, titleAnchor: 'middle',
    x0: 923, x1: 1138, y0: 43.5, y1: 186.5, xMax: 10000, lineWidth: 1.4, denseWidth: 1.2,
    xTicks: ticksShort, yTicks: ticksC, yFormat: 'd',
    yLabel: 'Area nm', yLabelSup: '2', yLabelX: 891,
    series: [cLegend[2], cLegend[4], cLegend[3], cLegend[1], cLegend[0]],
    legend: cLegend, legendX: 1171, legendY: [51, 68, 85, 101, 118],
    letter: '(c)', letterX: 1034, letterY: 299
});

// panel d
let dLegend = [
    entry('Cedrene + 2VWD Chain A', dCedreneA, BLUE),
    entry('Cedrene + 2VWD Chain B', dCedreneB, RED),
    entry('Cedrol + 2VWD Chain A', dCedrolA, GREEN),
    entry('Cedrol + 2VWD Chain B', dCedrolB, PURPLE),
    entry('Digoxigenin + 2VWD Chain A', dDigoxigeninA, ORANGE),
    entry('Digoxigenin + 2VWD Chain B', dDigoxigeninB, BLACK)
];
new LinePanel({
    title: '2VWD Radius of gyration (total and around axes)', titleX: 8, titleY: 388, titleAnchor: 'start',
    x0: 61.5, x1: 277, y0: 406, y1: 550, xMax: 100000, lineWidth: 2, denseWidth: 1.7,
    xTicks: ticksLong, xMinor: ticksLongMinor, yTicks: ticksD, yFormat: '.2f',
    yLabel: 'Rg (nm)', yLabelX: 26,
    series: [dLegend[4], dLegend[5], dLegend[2], dLegend[3], dLegend[1], dLegend[0]],
    legend: dLegend, legendX: 310, legendY: [415, 432, 449, 465, 482, 499],
    letter: '(d)', letterX: 158, letterY: 691
});

// panel e
let eLegend = [
    entry('Cedrene + 5EVM Chain A', eCedreneA, BLUE),
    entry('Cedrene + 5EVM Chain B', eCedreneB, RED),
    entry('Cedrene + 5EVM Chain C', eCedreneC, GREEN),
    entry('Cedrene + 5EVM Chain D', eCedreneD, '#c028e0'),
    entry('Cedrene + 5EVM Chain E', eCedreneE, ORANGE),
    entry('Cedrene + 5EVM Chain F', eCedreneF, BLACK, 0, 1.1),
    entry('Cedrol + 5EVM Chain A', eCedrolA, '#a06c28'),
    entry('Cedrol + 5EVM Chain B', eCedrolB, '#2222a0'),
    entry('Cedrol + 5EVM Chain C', eCedrolC, '#7e1a7e'),
    entry('Cedrol + 5EVM Chain D', eCedrolD, '#a40f1f'),
    entry('Cedrol + 5EVM Chain E', eCedrolE, '#0c6a14'),
    entry('Cedrol + 5EVM Chain F', eCedrolF, '#f2c888', 0.5),
    entry('Digoxigenin + 5EVM Chain A', eDigoxigeninA, '#14f014', 1.5),
    entry('Digoxigenin + 5EVM Chain B', eDigoxigeninB, '#9fd0f0', 2),
    entry('Digoxigenin + 5EVM Chain C', eDigoxigeninC, '#cfcdfa', 2),
    entry('Digoxigenin + 5EVM Chain D', eDigoxigeninD, '#707070', 2),
    entry('Digoxigenin + 5EVM Chain F', eDigoxigeninF, '#c98f4c', 2),
    entry('Digoxigenin + 5EVM Chain E', eDigoxigeninE, '#ffff1e', 2)
];
new LinePanel({
    title: '5EVM Radius of gyration (total and around axes)', titleX: 485, titleY: 388, titleAnchor: 'start',
    x0: 537, x1: 752, y0: 411, y1: 555, xMax: 100000, lineWidth: 2.4, denseWidth: 1.9,
    xTicks: ticksLong, xMinor: ticksLongMinor, yTicks: ticksE, yFormat: '.2f',
    yLabel: 'Rg (nm)', yLabelX: 501,
    series: [17, 15, 14, 13, 11, 12, 2, 10, 9, 16, 6, 4, 7, 3, 8, 1, 5, 0].map(i => eLegend[i]),
    legend: eLegend, legendX: 825,
    legendY: [381, 400, 419, 438, 457, 476, 495.5, 514.5, 533.5, 553, 572, 591, 610.5, 630, 650, 668, 685.5, 705],
    letter: '(e)', letterX: 646, letterY: 691
});

// panel f
let fLegend = [
    entry('Cedrene + 5WB0', fCedrene, BLUE),
    entry('Cedrol + 5WB0', fCedrol, RED),
    entry('Digoxigenin + 5WB0', fDigoxigenin, GREEN),
    entry('Chloroquine + 5WB0', fChloroquine, PURPLE),
    entry('Apo-5WB0', fApo, ORANGE)
];
new LinePanel({
    title: '5WB0 Radius of gyration (total and around axes)', titleX: 1001, titleY: 388, titleAnchor: 'start',
    x0: 1053, x1: 1268.5, y0: 406, y1: 550, xMax: 100000, lineWidth: 1.5, denseWidth: 1.6,
    xTicks: ticksLong, xMinor: ticksLongMinor, yTicks: ticksF, yFormat: '.1f',
    yLabel: 'Rg (nm)', yLabelX: 1023,
    series: [fLegend[4], fLegend[3], fLegend[2], fLegend[1], fLegend[0]],
    legend: fLegend, legendX: 1302, legendY: [415, 432, 449, 465, 482],
    letter: '(f)', letterX: 1168, letterY: 691
});

</script>
</body>
</html>
